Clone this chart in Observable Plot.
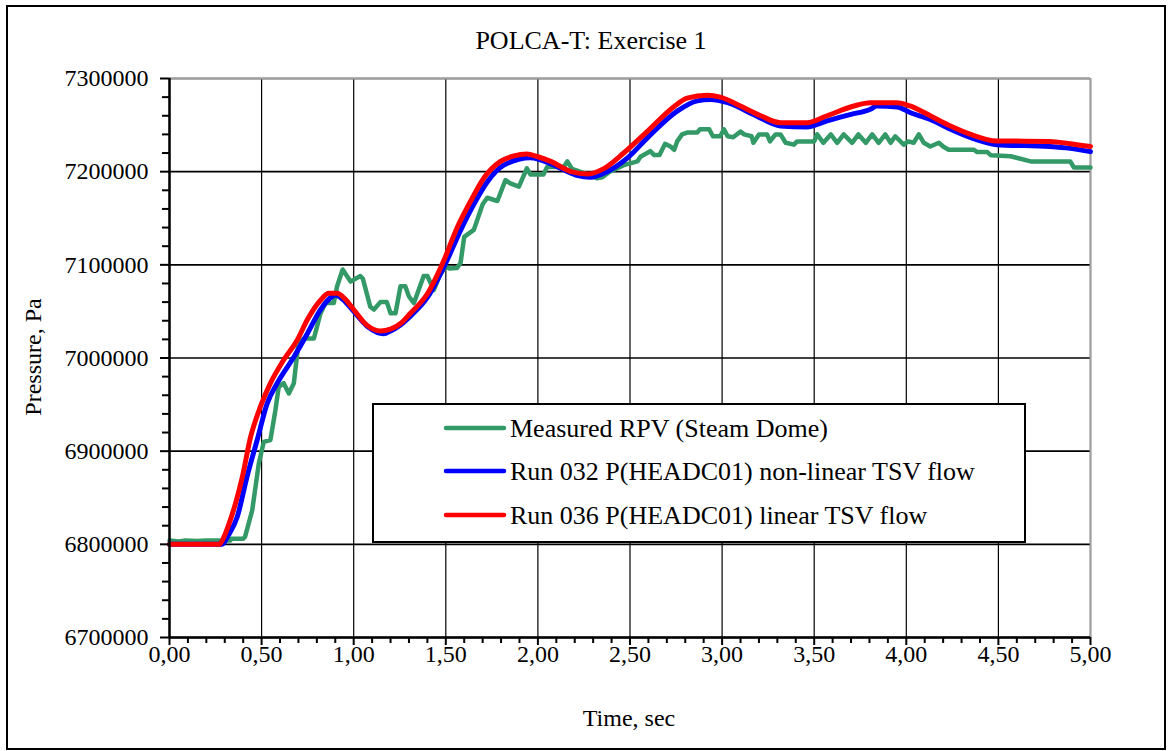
<!DOCTYPE html>
<html>
<head>
<meta charset="utf-8">
<script src="https://cdn.jsdelivr.net/npm/d3@7"></script>
<script src="https://cdn.jsdelivr.net/npm/@observablehq/plot@0.6"></script>
<style>
  html, body { margin: 0; padding: 0; background: white; }
  #chart { width: 1172px; height: 751px; }
  #chart svg, #chart svg text { font-family: "Liberation Serif", "Times New Roman", serif !important; }
  #chart svg .legend-text { text-anchor: start !important; }
</style>
</head>
<body>
<div id="chart"></div>
<script>
// ---- Data ----
const titleText = "POLCA-T: Exercise 1";
const xLabel = "Time, sec";
const yLabel = "Pressure, Pa";
const seriesNames = [
  "Measured RPV (Steam Dome)",
  "Run 032 P(HEADC01) non-linear TSV flow",
  "Run 036 P(HEADC01) linear TSV flow"
];
const seriesColors = ["#339966", "#0000ff", "#ff0000"];

const xTicks = [0, 0.5, 1, 1.5, 2, 2.5, 3, 3.5, 4, 4.5, 5];
const xTickLabels = ["0,00","0,50","1,00","1,50","2,00","2,50","3,00","3,50","4,00","4,50","5,00"];
const xMinorTicks = [0.1,0.2,0.3,0.4,0.6,0.7,0.8,0.9,1.1,1.2,1.3,1.4,1.6,1.7,1.8,1.9,2.1,2.2,2.3,2.4,2.6,2.7,2.8,2.9,3.1,3.2,3.3,3.4,3.6,3.7,3.8,3.9,4.1,4.2,4.3,4.4,4.6,4.7,4.8,4.9];
const yTicks = [6700000, 6800000, 6900000, 7000000, 7100000, 7200000, 7300000];
const yTickLabels = ["6700000","6800000","6900000","7000000","7100000","7200000","7300000"];
const yMinorTicks = [6720000,6740000,6760000,6780000,6820000,6840000,6860000,6880000,6920000,6940000,6960000,6980000,7020000,7040000,7060000,7080000,7120000,7140000,7160000,7180000,7220000,7240000,7260000,7280000];

const measuredT = [0,0.05,0.08,0.15,0.2,0.33,0.335,0.40,0.41,0.449,0.485,0.512,0.548,0.575,0.593,0.62,0.648,0.675,0.70,0.73,0.784,0.82,0.847,0.892,0.91,0.94,0.983,1.036,1.05,1.09,1.11,1.145,1.18,1.2,1.227,1.254,1.28,1.30,1.327,1.38,1.40,1.435,1.47,1.50,1.52,1.56,1.58,1.60,1.652,1.70,1.725,1.78,1.824,1.85,1.897,1.94,1.96,2.03,2.05,2.14,2.16,2.185,2.26,2.32,2.35,2.39,2.466,2.54,2.557,2.593,2.61,2.63,2.66,2.69,2.72,2.74,2.756,2.783,2.81,2.865,2.88,2.93,2.95,2.99,3.01,3.03,3.06,3.10,3.12,3.16,3.17,3.20,3.244,3.26,3.29,3.317,3.345,3.39,3.407,3.50,3.516,3.55,3.59,3.625,3.66,3.706,3.74,3.78,3.815,3.85,3.886,3.915,3.94,3.986,4.01,4.04,4.068,4.095,4.13,4.177,4.2,4.23,4.367,4.385,4.44,4.46,4.566,4.675,4.89,4.91,5.0];
const measuredP = [6804000,6803000,6804000,6803500,6804000,6804000,6806000,6806000,6808000,6836500,6887000,6910000,6912000,6944000,6969000,6973000,6962000,6973000,7016000,7021000,7021000,7048000,7059000,7059000,7077000,7095000,7082000,7088000,7085000,7055000,7052000,7060000,7060000,7048000,7048000,7077000,7077000,7066000,7059000,7088000,7088000,7073000,7090000,7098000,7096000,7096500,7102000,7130000,7137500,7165000,7172000,7168500,7191000,7187500,7184000,7203500,7197000,7197000,7205000,7205000,7211000,7203000,7198000,7193000,7194000,7200000,7207000,7211000,7216000,7220000,7222000,7218000,7218000,7229800,7227000,7223500,7232500,7240000,7242000,7242000,7245500,7245500,7238000,7238000,7245500,7238000,7237000,7243000,7240000,7238000,7231000,7240000,7240000,7232500,7240000,7240000,7231000,7229000,7232500,7232500,7240000,7231000,7240000,7231000,7240000,7231000,7240000,7231000,7240000,7231000,7240000,7231000,7238000,7229000,7232500,7231000,7240000,7231000,7227000,7231000,7227000,7223500,7223500,7221000,7221000,7217500,7216500,7211000,7211000,7204500,7204500];

const run032T = [0,0.286,0.32,0.367,0.42,0.476,0.53,0.585,0.675,0.748,0.82,0.883,0.90,0.94,1.0,1.08,1.163,1.2,1.25,1.308,1.40,1.50,1.58,1.652,1.725,1.815,1.96,2.087,2.21,2.285,2.376,2.485,2.593,2.756,2.865,2.937,3.03,3.17,3.317,3.46,3.57,3.70,3.805,3.84,3.95,4.02,4.13,4.24,4.35,4.49,4.78,4.89,5.0];
const run032P = [6800000,6800000,6810000,6829000,6872000,6912000,6951000,6973000,7001000,7026000,7052000,7066000,7067500,7063000,7050000,7033000,7026000,7029000,7035000,7045000,7065000,7102000,7137000,7165000,7189000,7207000,7215000,7207000,7196000,7194000,7200000,7214500,7236000,7265000,7276000,7277500,7274000,7261500,7249000,7248000,7254500,7261500,7267000,7270500,7269500,7263500,7256000,7245500,7236500,7229000,7227000,7225000,7221500];

const run036T = [0,0.27,0.30,0.33,0.36,0.395,0.44,0.494,0.548,0.62,0.693,0.748,0.82,0.865,0.91,0.95,1.0,1.073,1.145,1.2,1.26,1.308,1.40,1.49,1.562,1.634,1.706,1.797,1.87,1.94,2.0,2.07,2.18,2.27,2.36,2.466,2.593,2.74,2.81,2.92,2.99,3.10,3.21,3.317,3.46,3.57,3.715,3.805,3.95,4.02,4.13,4.24,4.35,4.49,4.78,4.89,5.0];
const run036P = [6800000,6800000,6810000,6826000,6845000,6872000,6915000,6948000,6973000,6998000,7019000,7041000,7062000,7069500,7069500,7064000,7052000,7035000,7029000,7031000,7038000,7048000,7069000,7105000,7140000,7168000,7193000,7211000,7217000,7219000,7216000,7211000,7200000,7197500,7203500,7220000,7243000,7270000,7279000,7282000,7280000,7270500,7260000,7252500,7252500,7260000,7270500,7274000,7274000,7270500,7260000,7249000,7240000,7233000,7232500,7230000,7227000];

// ---- Chart ----
const W = 1172, H = 751;
const mL = 169, mR = 82, mT = 78, mB = 114;

const plot = Plot.plot({
  width: W,
  height: H,
  marginLeft: mL,
  marginRight: mR,
  marginTop: mT,
  marginBottom: mB,
  style: { fontSize: "24px", background: "white", color: "black" },
  x: { domain: [0, 5] },
  y: { domain: [6700000, 7300000] },
  marks: [
    Plot.gridX(xTicks, { stroke: "black", strokeOpacity: 1, strokeWidth: 1.2 }),
    Plot.gridY(yTicks, { stroke: "black", strokeOpacity: 1, strokeWidth: 1.6 }),
    Plot.ruleY([yTicks[yTicks.length - 1]], { stroke: "#a0a0a0", strokeWidth: 2 }),
    Plot.ruleX([xTicks[xTicks.length - 1]], { stroke: "#a0a0a0", strokeWidth: 2 }),
    Plot.line(measuredP, { x: measuredT, y: measuredP, stroke: seriesColors[0], strokeWidth: 4.5, strokeLinejoin: "round" }),
    Plot.line(run032P, { x: run032T, y: run032P, stroke: seriesColors[1], strokeWidth: 5, strokeLinejoin: "round", curve: "monotone-x" }),
    Plot.line(run036P, { x: run036T, y: run036P, stroke: seriesColors[2], strokeWidth: 5, strokeLinejoin: "round", curve: "monotone-x" }),
    Plot.ruleX([xTicks[0]], { stroke: "black", strokeWidth: 2.5 }),
    Plot.ruleY([yTicks[0]], { stroke: "black", strokeWidth: 2.5 }),
    Plot.axisX(xTicks, { tickFormat: d => xTickLabels[xTicks.indexOf(d)], tickSize: 8, strokeWidth: 2, tickPadding: -1, label: null, fontSize: 24 }),
    Plot.axisX(xMinorTicks, { tickSize: 6, strokeWidth: 2, text: null, label: null }),
    Plot.axisY(yTicks, { tickFormat: d => yTickLabels[yTicks.indexOf(d)], tickSize: 9, strokeWidth: 2, tickPadding: 12, label: null, fontSize: 24 }),
    Plot.axisY(yMinorTicks, { tickSize: 7, strokeWidth: 2, text: null, label: null })
  ]
});

document.getElementById("chart").appendChild(plot);

// ---- Decorations: outer frame, title, axis titles, legend ----
const svg = d3.select(plot);
svg.insert("rect", ":first-child")
  .attr("x", 7).attr("y", 6).attr("width", 1158).attr("height", 743)
  .attr("fill", "white").attr("stroke", "black").attr("stroke-width", 2);

svg.append("text")
  .attr("x", 591).attr("y", 49)
  .attr("text-anchor", "middle")
  .attr("font-size", 26)
  .attr("fill", "black")
  .text(titleText);

svg.append("text")
  .attr("x", 629).attr("y", 726)
  .attr("text-anchor", "middle")
  .attr("font-size", 24)
  .attr("fill", "black")
  .text(xLabel);

svg.append("text")
  .attr("transform", "translate(41,357) rotate(-90)")
  .attr("text-anchor", "middle")
  .attr("font-size", 24)
  .attr("fill", "black")
  .text(yLabel);

const lg = svg.append("g");
lg.append("rect")
  .attr("x", 373).attr("y", 404).attr("width", 652).attr("height", 138)
  .attr("fill", "white").attr("stroke", "black").attr("stroke-width", 2);
const rowY = [428, 471, 515];
seriesNames.forEach((name, i) => {
  lg.append("line")
    .attr("x1", 446).attr("x2", 504)
    .attr("y1", rowY[i]).attr("y2", rowY[i])
    .attr("stroke", seriesColors[i]).attr("stroke-width", 4.5)
    .attr("stroke-linecap", "round");
  lg.append("text")
    .attr("class", "legend-text")
    .attr("x", 510).attr("y", rowY[i] + 9)
    .attr("text-anchor", "start")
    .attr("font-size", 26)
    .attr("fill", "black")
    .text(name);
});
</script>
</body>
</html>
